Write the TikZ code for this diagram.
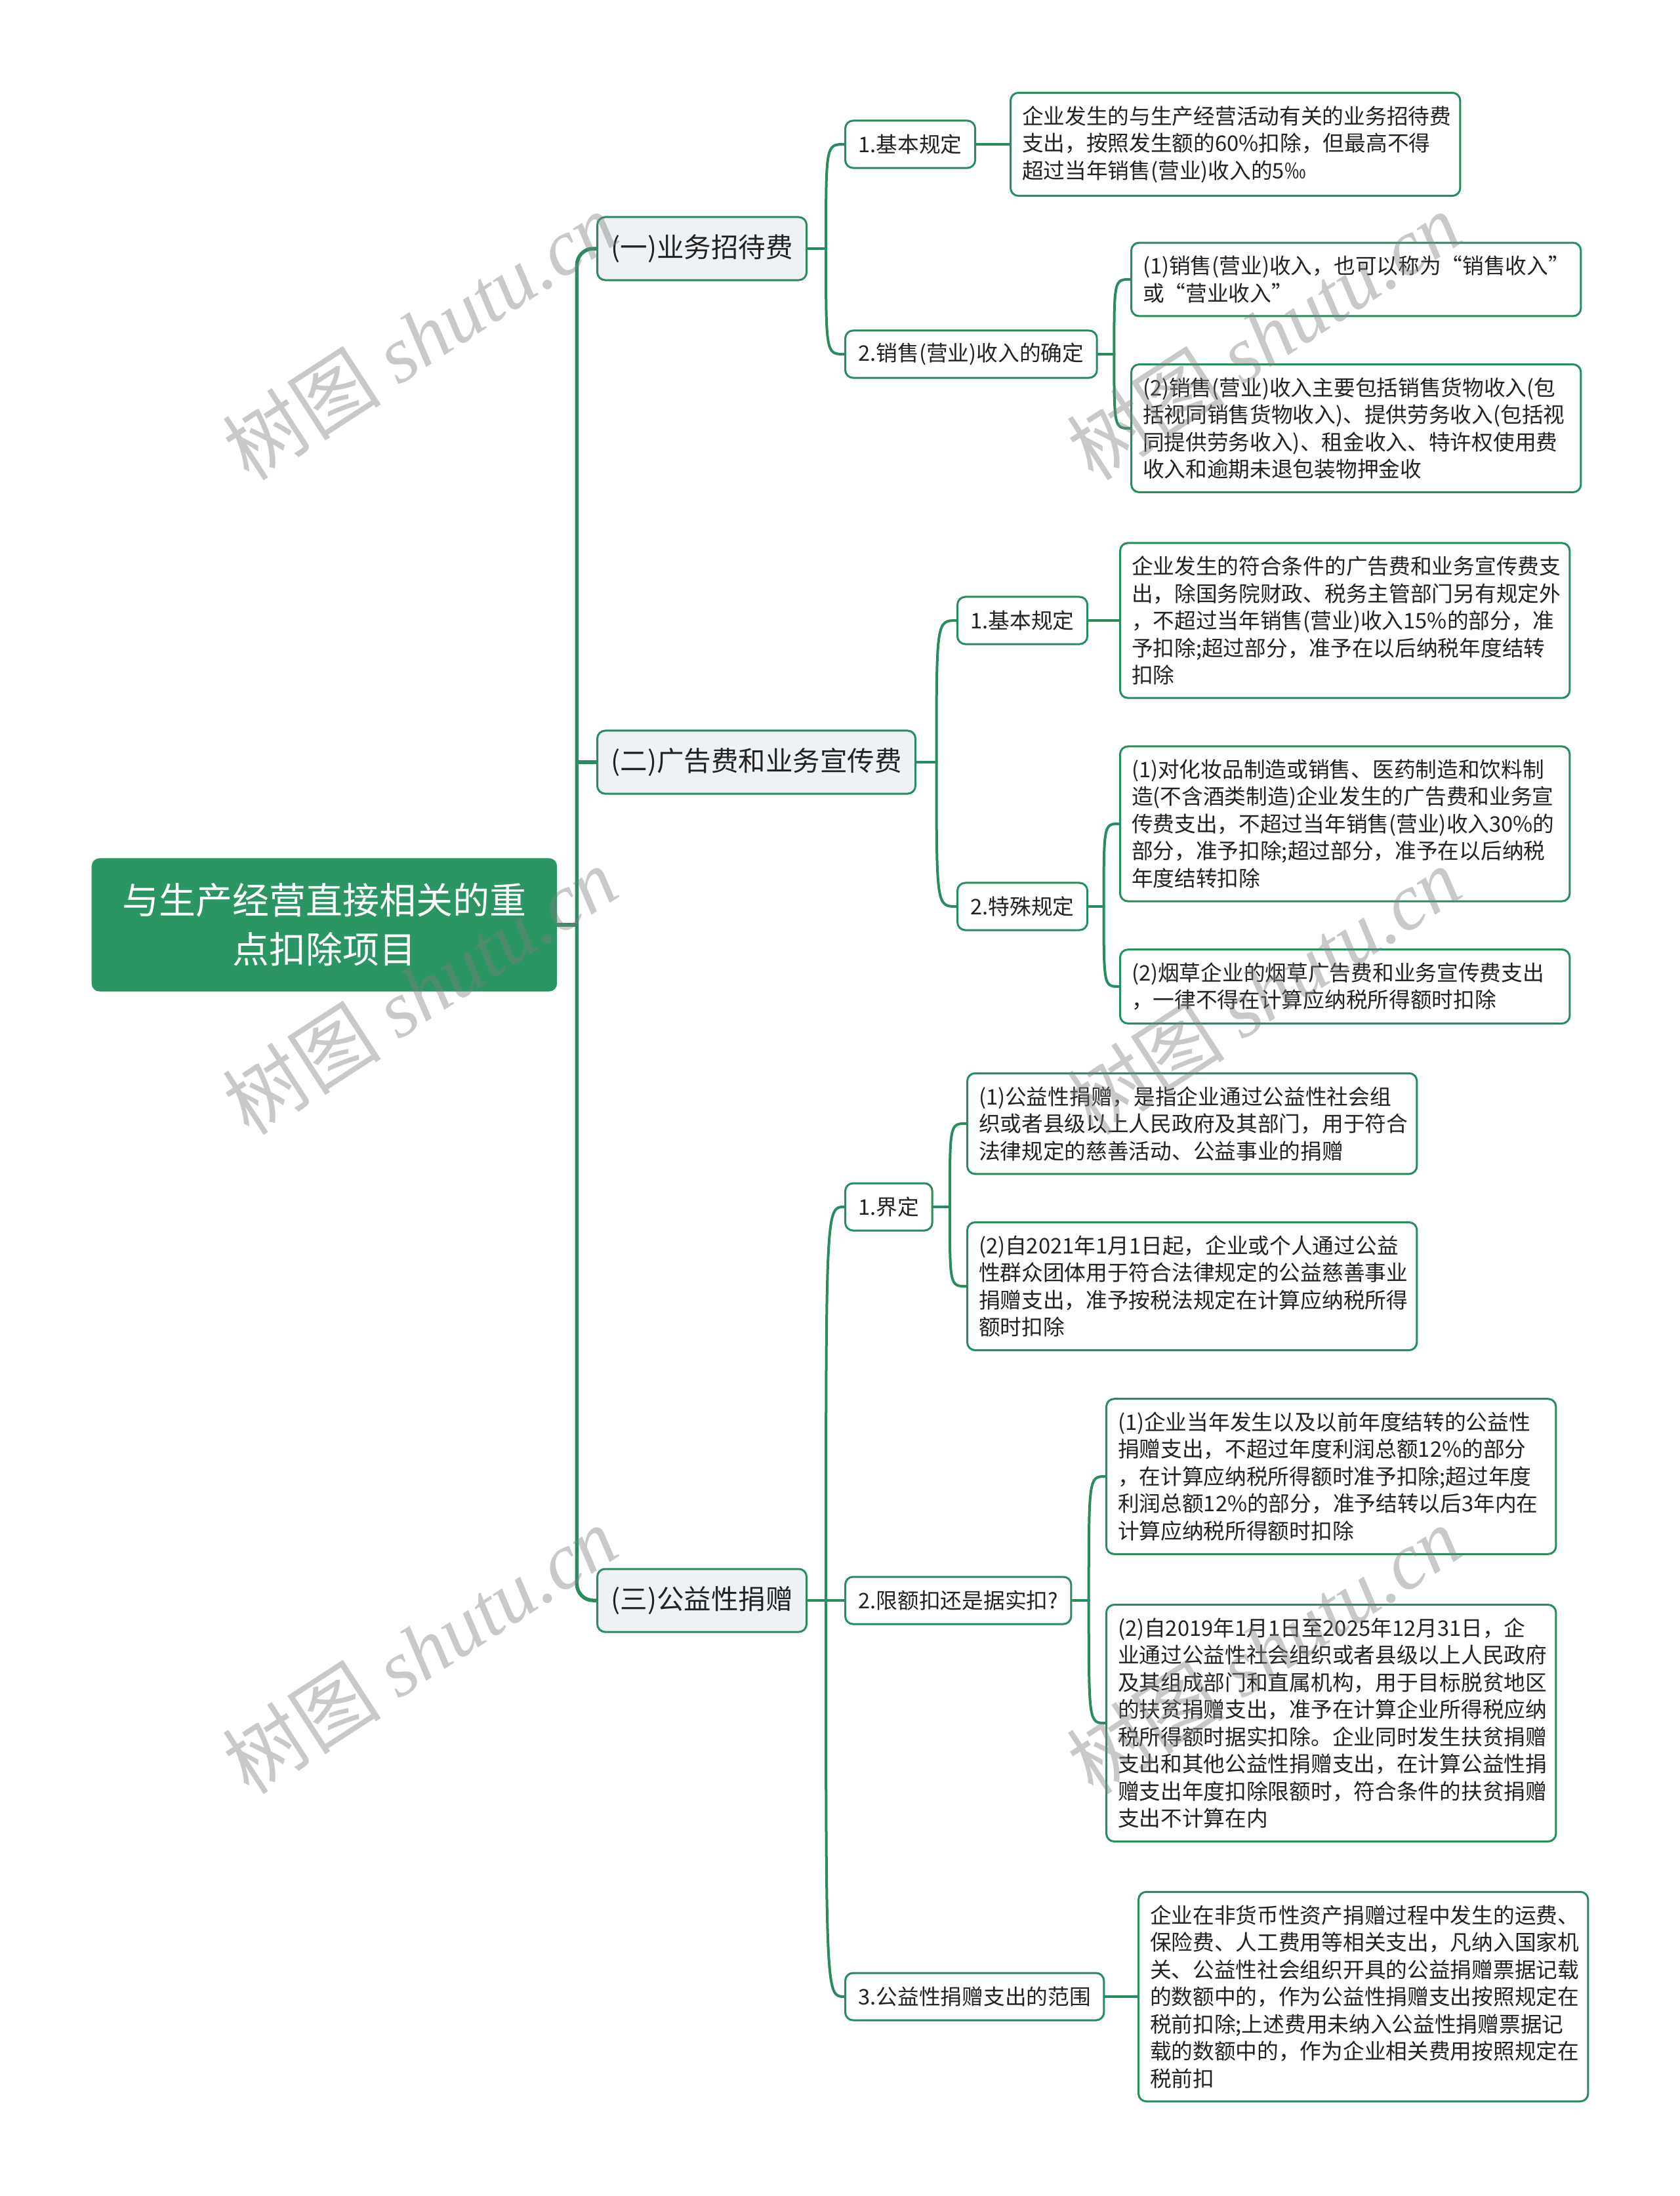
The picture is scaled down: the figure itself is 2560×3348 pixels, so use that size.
\documentclass[tikz,border=0pt]{standalone}
\usepackage{fontspec}
\setmainfont{Noto Sans CJK SC}
\newfontfamily\wmserif{Liberation Serif}
\usepackage{xcolor}
\definecolor{greenRoot}{RGB}{43,150,100}
\definecolor{greenLine}{RGB}{40,140,95}
\definecolor{grayTopic}{RGB}{238,242,245}
\definecolor{inkDark}{RGB}{34,34,34}
\usepackage{tikz}
\usetikzlibrary{calc}

\begin{document}
\begin{tikzpicture}[
  x=0.01cm, y=-0.01cm,
  rootbox/.style={rectangle, rounded corners=0.12cm, fill=greenRoot, text=white,
                  minimum width=7.09cm, minimum height=2.03cm, align=center,
                  font=\fontsize{15.9}{21.3}\selectfont},
  catbox/.style={rectangle, rounded corners=0.12cm, draw=greenLine, line width=0.03cm,
                 fill=grayTopic, text=inkDark, minimum height=0.96cm, inner xsep=0.21cm,
                 font=\fontsize{11.8}{14}\selectfont},
  keybox/.style={rectangle, rounded corners=0.12cm, draw=greenLine, line width=0.03cm,
                 fill=white, text=inkDark, minimum height=0.72cm, inner xsep=0.2cm,
                 font=\fontsize{9.3}{11.8}\selectfont},
  textbox/.style={keybox, text width=6.5cm, align=left, inner xsep=0.175cm, inner ysep=0.2cm},
  trunkline/.style={draw=greenLine, line width=0.055cm, line cap=round},
  branchline/.style={draw=greenLine, line width=0.04cm, line cap=round},
  wmtext/.style={text=gray, text opacity=0.42, rotate=33, font=\fontsize{34.5}{38}\selectfont}
]
\useasboundingbox (0,0) rectangle (2560,3348);
\fill[white] (0,0) rectangle (2560,3348);

% 中心主题
\node[rootbox, anchor=west] (R) at (139,1410) {与生产经营直接相关的重\\点扣除项目};

% 一级分支
\node[catbox, anchor=west] (A) at (909,379) {(一)业务招待费};
\node[catbox, anchor=west] (B) at (909,1162) {(二)广告费和业务宣传费};
\node[catbox, anchor=west] (C) at (909,2440) {(三)公益性捐赠};

\coordinate (hub) at ($(R.east)!.5!(R.east -| A.west)$);
\draw[trunkline] (R.east) -- (hub);
\draw[trunkline, rounded corners=0.25cm] (hub) |- (A.west);
\draw[trunkline, rounded corners=0.25cm] (hub) |- (C.west);
\draw[trunkline] (hub |- B.west) -- (B.west);

% (一)业务招待费
\node[keybox, anchor=west] (a1) at (1287,220) {1.基本规定};
\node[keybox, anchor=west] (a2) at (1287,540) {2.销售(营业)收入的确定};
\node[textbox, anchor=west] (a1x) at (1539,220) {企业发生的与生产经营活动有关的业务招待费\\支出，按照发生额的60\%扣除，但最高不得\\超过当年销售(营业)收入的5‰};
\node[textbox, anchor=west] (a2x) at (1723,426) {(1)销售(营业)收入，也可以称为“销售收入”\\或“营业收入”};
\node[textbox, anchor=west] (a2y) at (1723,653) {(2)销售(营业)收入主要包括销售货物收入(包\\括视同销售货物收入)、提供劳务收入(包括视\\同提供劳务收入)、租金收入、特许权使用费\\收入和逾期未退包装物押金收};

\coordinate (Aj) at ($(A.east)!.5!(A.east -| a1.west)$);
\draw[branchline] (A.east) -- (Aj);
\draw[branchline] (Aj) .. controls (Aj |- a1.west) .. (a1.west);
\draw[branchline] (Aj) .. controls (Aj |- a2.west) .. (a2.west);
\draw[branchline] (a1.east) -- (a1x.west);
\coordinate (a2j) at ($(a2.east)!.5!(a2.east -| a2x.west)$);
\draw[branchline] (a2.east) -- (a2j);
\draw[branchline] (a2j) .. controls (a2j |- a2x.west) .. (a2x.west);
\draw[branchline] (a2j) .. controls (a2j |- a2y.west) .. (a2y.west);

% (二)广告费和业务宣传费
\node[keybox, anchor=west] (b1) at (1458,946) {1.基本规定};
\node[keybox, anchor=west] (b2) at (1458,1382) {2.特殊规定};
\node[textbox, anchor=west] (b1x) at (1706,946) {企业发生的符合条件的广告费和业务宣传费支\\出，除国务院财政、税务主管部门另有规定外\\，不超过当年销售(营业)收入15\%的部分，准\\予扣除;超过部分，准予在以后纳税年度结转\\扣除};
\node[textbox, anchor=west] (b2x) at (1706,1256) {(1)对化妆品制造或销售、医药制造和饮料制\\造(不含酒类制造)企业发生的广告费和业务宣\\传费支出，不超过当年销售(营业)收入30\%的\\部分，准予扣除;超过部分，准予在以后纳税\\年度结转扣除};
\node[textbox, anchor=west] (b2y) at (1706,1504) {(2)烟草企业的烟草广告费和业务宣传费支出\\，一律不得在计算应纳税所得额时扣除};

\coordinate (Bj) at ($(B.east)!.5!(B.east -| b1.west)$);
\draw[branchline] (B.east) -- (Bj);
\draw[branchline] (Bj) .. controls (Bj |- b1.west) .. (b1.west);
\draw[branchline] (Bj) .. controls (Bj |- b2.west) .. (b2.west);
\draw[branchline] (b1.east) -- (b1x.west);
\coordinate (b2j) at ($(b2.east)!.5!(b2.east -| b2x.west)$);
\draw[branchline] (b2.east) -- (b2j);
\draw[branchline] (b2j) .. controls (b2j |- b2x.west) .. (b2x.west);
\draw[branchline] (b2j) .. controls (b2j |- b2y.west) .. (b2y.west);

% (三)公益性捐赠
\node[keybox, anchor=west] (c1) at (1287,1840) {1.界定};
\node[keybox, anchor=west] (c2) at (1287,2440) {2.限额扣还是据实扣?};
\node[keybox, anchor=west] (c3) at (1287,3044) {3.公益性捐赠支出的范围};
\node[textbox, anchor=west] (c1x) at (1473,1713) {(1)公益性捐赠，是指企业通过公益性社会组\\织或者县级以上人民政府及其部门，用于符合\\法律规定的慈善活动、公益事业的捐赠};
\node[textbox, anchor=west] (c1y) at (1473,1961) {(2)自2021年1月1日起，企业或个人通过公益\\性群众团体用于符合法律规定的公益慈善事业\\捐赠支出，准予按税法规定在计算应纳税所得\\额时扣除};
\node[textbox, anchor=west] (c2x) at (1685,2251) {(1)企业当年发生以及以前年度结转的公益性\\捐赠支出，不超过年度利润总额12\%的部分\\，在计算应纳税所得额时准予扣除;超过年度\\利润总额12\%的部分，准予结转以后3年内在\\计算应纳税所得额时扣除};
\node[textbox, anchor=west] (c2y) at (1685,2627) {(2)自2019年1月1日至2025年12月31日，企\\业通过公益性社会组织或者县级以上人民政府\\及其组成部门和直属机构，用于目标脱贫地区\\的扶贫捐赠支出，准予在计算企业所得税应纳\\税所得额时据实扣除。企业同时发生扶贫捐赠\\支出和其他公益性捐赠支出，在计算公益性捐\\赠支出年度扣除限额时，符合条件的扶贫捐赠\\支出不计算在内};
\node[textbox, anchor=west] (c3x) at (1734,3044) {企业在非货币性资产捐赠过程中发生的运费、\\保险费、人工费用等相关支出，凡纳入国家机\\关、公益性社会组织开具的公益捐赠票据记载\\的数额中的，作为公益性捐赠支出按照规定在\\税前扣除;上述费用未纳入公益性捐赠票据记\\载的数额中的，作为企业相关费用按照规定在\\税前扣};

\coordinate (Cj) at ($(C.east)!.5!(C.east -| c1.west)$);
\draw[branchline] (C.east) -- (Cj);
\draw[branchline] (Cj) .. controls (Cj |- c1.west) .. (c1.west);
\draw[branchline] (Cj) -- (c2.west);
\draw[branchline] (Cj) .. controls (Cj |- c3.west) .. (c3.west);
\coordinate (c1j) at ($(c1.east)!.5!(c1.east -| c1x.west)$);
\draw[branchline] (c1.east) -- (c1j);
\draw[branchline] (c1j) .. controls (c1j |- c1x.west) .. (c1x.west);
\draw[branchline] (c1j) .. controls (c1j |- c1y.west) .. (c1y.west);
\coordinate (c2j) at ($(c2.east)!.5!(c2.east -| c2x.west)$);
\draw[branchline] (c2.east) -- (c2j);
\draw[branchline] (c2j) .. controls (c2j |- c2x.west) .. (c2x.west);
\draw[branchline] (c2j) .. controls (c2j |- c2y.west) .. (c2y.west);
\draw[branchline] (c3.east) -- (c3x.west);

% 水印
\foreach \wy in {512,1510,2515} {
  \foreach \wx in {640,1926} {
    \node[wmtext] (wm-\wx-\wy) at (\wx,\wy) {树图 {\wmserif\itshape shutu.cn}};
  }
}

\end{tikzpicture}
\end{document}
